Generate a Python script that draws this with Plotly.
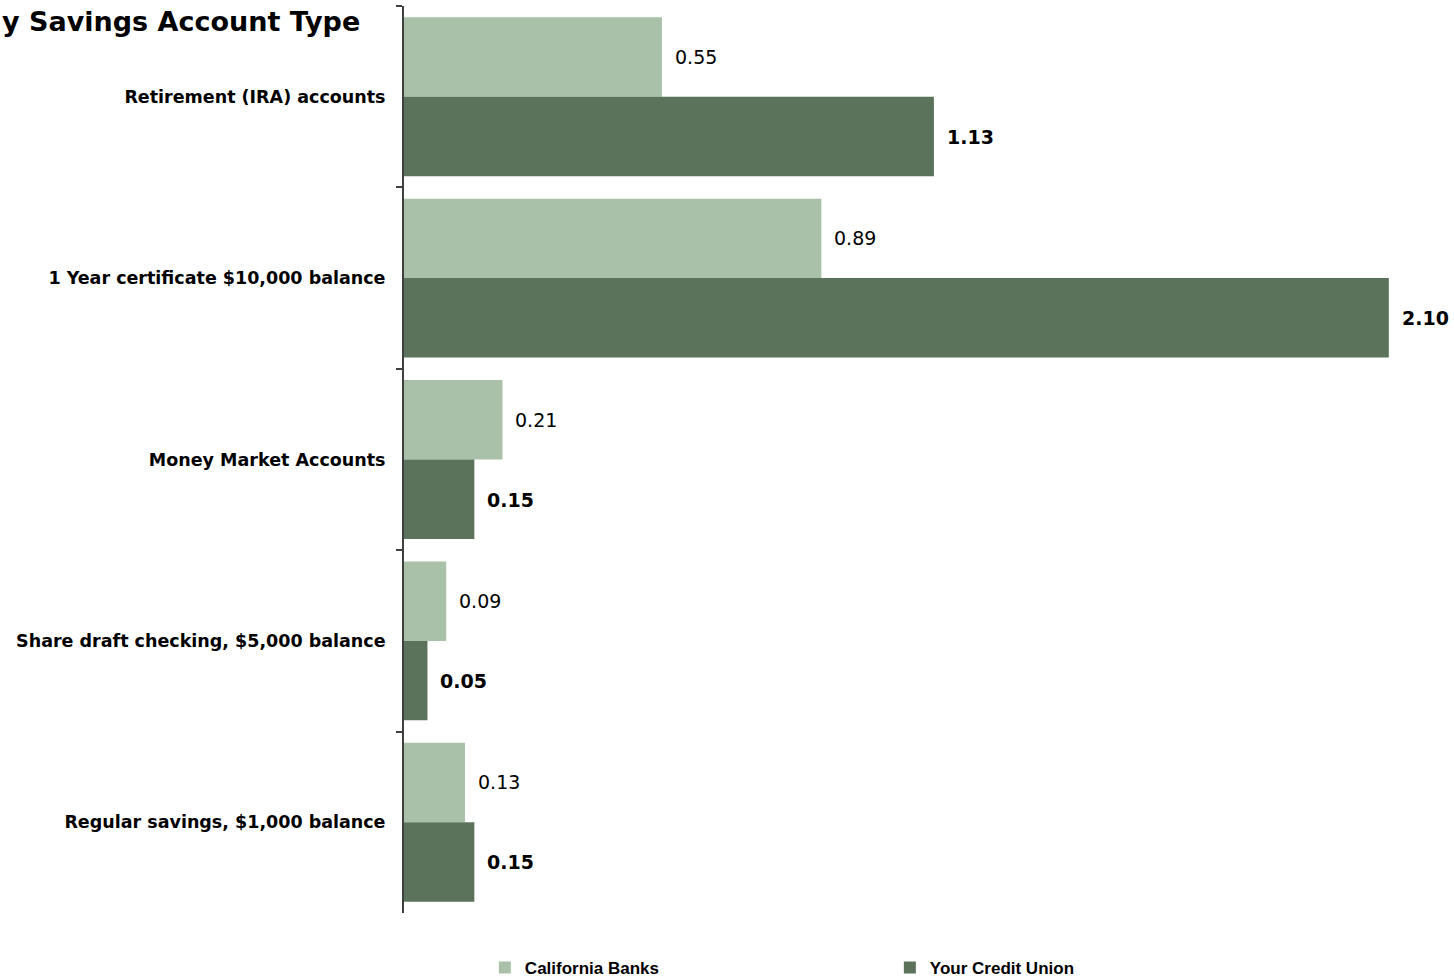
import plotly.graph_objects as go

categories = [
    "Retirement (IRA) accounts",
    "1 Year certificate $10,000 balance",
    "Money Market Accounts",
    "Share draft checking, $5,000 balance",
    "Regular savings, $1,000 balance",
]
series_names = ["California Banks", "Your Credit Union"]
california_banks = [0.55, 0.89, 0.21, 0.09, 0.13]
credit_union = [1.13, 2.10, 0.15, 0.05, 0.15]
title_text = "y Savings Account Type"

colors = ["#A9C1A8", "#5A735A"]
FONT = "DejaVu Sans"
ML, MR, MT, MB = 404, 0, 6, 67
W, H = 1454, 980

fig = go.Figure()
for name, vals, col in zip(series_names, [california_banks, credit_union], colors):
    fig.add_trace(go.Bar(
        y=categories, x=vals, name=name, orientation="h",
        marker=dict(color=col, line=dict(width=0)),
    ))

# value labels
for i, (vals, bold) in enumerate([(california_banks, False), (credit_union, True)]):
    for j, (c, v) in enumerate(zip(categories, vals)):
        txt = f"{v:.2f}"
        if bold:
            txt = f"<b>{txt}</b>"
        fig.add_annotation(
            x=v, y=j, xref="x", yref="y", text=txt, showarrow=False,
            xanchor="left", yanchor="middle", xshift=11,
            yshift=(40 if i == 0 else -40),
            font=dict(family=FONT, size=19, color="#000000"),
        )

fig.add_annotation(
    x=-ML / (W - ML - MR), y=1, xref="paper", yref="paper", xanchor="left", yanchor="middle",
    text=f"<b>{title_text}</b>", showarrow=False, yshift=-15,
    font=dict(family=FONT, size=27, color="#000000"),
)

fig.update_layout(
    width=W, height=H,
    margin=dict(l=ML, r=MR, t=MT, b=MB, autoexpand=False),
    paper_bgcolor="white", plot_bgcolor="white",
    barmode="group", bargap=0.124, bargroupgap=0,
    showlegend=True,
    legend=dict(orientation="h", x=0.077, y=-0.0606, xanchor="left", yanchor="middle",
                entrywidth=360, entrywidthmode="pixels", itemwidth=30,
                font=dict(family="Liberation Sans", size=17, color="#000000", weight="bold")),
    xaxis=dict(range=[0, 2.239], showgrid=False, zeroline=False, showticklabels=False,
               showline=False, ticks=""),
    yaxis=dict(categoryorder="array", categoryarray=categories, autorange="reversed",
               showline=True, linecolor="#404040", linewidth=2,
               ticks="outside", tickson="boundaries", ticklen=6, tickwidth=2, tickcolor="#404040",
               ticklabelstandoff=13,
               showgrid=False, zeroline=False,
               tickfont=dict(family=FONT, size=17.5, color="#000000", weight="bold")),
    font=dict(family=FONT),
)

fig.write_html("out.html")
